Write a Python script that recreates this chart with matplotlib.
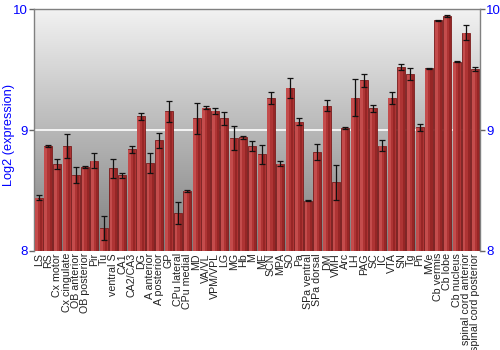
import numpy as np
import matplotlib
matplotlib.use("Agg")
import matplotlib.pyplot as plt
from matplotlib.colors import LinearSegmentedColormap

plt.rcParams['font.family'] = ['Liberation Sans', 'DejaVu Sans']

regions = ["LS", "RS", "Cx motor", "Cx cingulate", "OB anterior", "OB posterior",
           "Pir", "Tu", "ventral S", "CA1", "CA2/CA3", "DG", "A anterior",
           "A posterior", "GP", "CPu lateral", "CPu medial", "MD", "VA/VL",
           "VPM/VPL", "LG", "MG", "Hb", "M", "ME", "SCN", "MPA", "SO", "Pa",
           "SPa ventral", "SPa dorsal", "DM", "VMH", "Arc", "LH", "PAG", "SC",
           "IC", "VTA", "SN", "Tg", "Pn", "MVe", "Cb vermis", "Cb lobe",
           "Cb nucleus", "spinal cord anterior", "spinal cord posterior"]

expression = [8.44, 8.866, 8.72, 8.868, 8.628, 8.694, 8.749, 8.19, 8.683, 8.628,
              8.841, 9.115, 8.727, 8.915, 9.156, 8.315, 8.498, 9.098, 9.187,
              9.162, 9.098, 8.932, 8.94, 8.868, 8.799, 9.266, 8.722, 9.353,
              9.07, 8.417, 8.818, 9.203, 8.567, 9.018, 9.27, 9.413, 9.181,
              8.871, 9.27, 9.524, 9.466, 9.023, 9.513, 9.911, 9.944, 9.568,
              9.809, 9.507]

errors = [0.02, 0.008, 0.045, 0.097, 0.066, 0.01, 0.066, 0.1, 0.075, 0.02,
          0.028, 0.028, 0.083, 0.064, 0.086, 0.09, 0.007, 0.127, 0.014, 0.025,
          0.053, 0.1, 0.014, 0.041, 0.075, 0.05, 0.022, 0.083, 0.03, 0.004,
          0.064, 0.044, 0.147, 0.008, 0.155, 0.055, 0.028, 0.044, 0.05,
          0.025, 0.053, 0.03, 0.003, 0.003, 0.008, 0.004, 0.06, 0.017]

yticks = [8, 9, 10]

fig = plt.figure(figsize=(5, 3.5), dpi=100)
ax = fig.add_axes([0.068, 0.283, 0.892, 0.690])

x = np.arange(len(regions))
ax.set_xlim(-0.5, len(regions) - 0.5)
ax.set_ylim(8, 10)

# background gradient
cmap = LinearSegmentedColormap.from_list("bg", ["#7e7e7e", "#f2f2f2"])
grad = np.linspace(0, 1, 256).reshape(-1, 1)
ax.imshow(grad, aspect="auto", cmap=cmap, origin="lower",
          extent=[0, 1, 0, 1], transform=ax.transAxes, zorder=0)

ax.axhline(9, color="white", lw=1.2, zorder=1)

vals = np.array(expression)
base = 8
ax.bar(x, vals - base, bottom=base, width=0.86, color="#ae3434",
       edgecolor="#7a1c1c", linewidth=0.6, zorder=2)
ax.bar(x - 0.22, vals - base - 0.005, bottom=base, width=0.3,
       color="#c44c4c", linewidth=0, zorder=3)
ax.bar(x + 0.28, vals - base - 0.005, bottom=base, width=0.22,
       color="#962626", linewidth=0, zorder=3)
ax.errorbar(x, vals, yerr=errors, fmt="none", ecolor="#111111",
            elinewidth=0.9, capsize=2, capthick=0.9, zorder=4)

ax.set_yticks(yticks)
ax.set_yticklabels([str(t) for t in yticks])
ax.tick_params(axis="y", which="both", left=True, right=True,
               labelleft=True, labelright=True, colors="#666666",
               labelcolor="#0000ff", labelsize=9.5, length=3.5, width=1, pad=1)
ax.set_xticks(x)
ax.set_xticklabels(regions, rotation=90, fontsize=7.7, color="#222222")
ax.tick_params(axis="x", length=0, pad=1.5)

for s in ["top", "left", "right"]:
    ax.spines[s].set_color("#808080")
    ax.spines[s].set_linewidth(1)
ax.spines["bottom"].set_visible(False)

ax.set_ylabel("Log2 (expression)", color="#0000ff", fontsize=9.2)
ax.yaxis.set_label_coords(-0.043, 0.48)

fig.savefig("out.png", dpi=100)
